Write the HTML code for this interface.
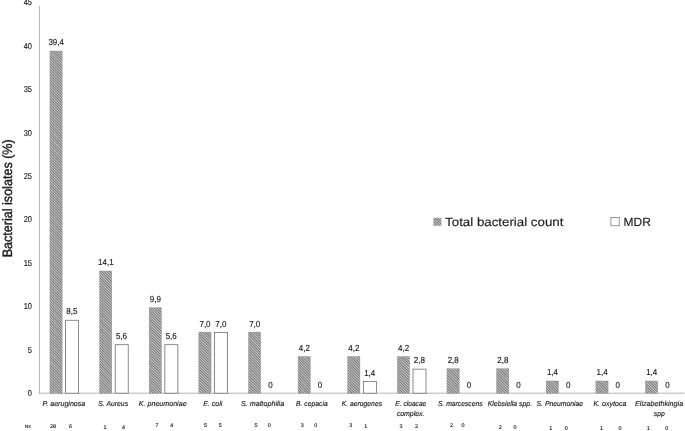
<!DOCTYPE html>
<html><head><meta charset="utf-8"><title>Bacterial isolates</title>
<style>
html,body{margin:0;padding:0;background:#fff;}
svg{display:block;text-rendering:geometricPrecision;font-family:"Liberation Sans",sans-serif;}
text{fill:#1c1c1c;stroke:#1c1c1c;stroke-width:0.15px;}
.ax{font-size:8.5px;text-anchor:end;}
.dl{font-size:8.7px;text-anchor:middle;}
.cl{font-size:7.2px;font-style:italic;text-anchor:middle;}
.nr{font-size:5.4px;text-anchor:middle;}
.lg{font-size:12px;}
</style></head><body>
<svg width="685" height="431" viewBox="0 0 685 431">
<defs>
<pattern id="h" width="1.9" height="1.9" patternUnits="userSpaceOnUse" patternTransform="rotate(45)">
<rect width="1.9" height="1.9" fill="#cdcdcd"/>
<rect width="1.9" height="0.95" fill="#707070"/>
</pattern>
</defs>
<rect width="685" height="431" fill="#fff"/>

<line x1="39.4" y1="6" x2="39.4" y2="393.6" stroke="#b4b4b4" stroke-width="1"/>
<line x1="39" y1="393.2" x2="684.3" y2="393.2" stroke="#b4b4b4" stroke-width="1"/>
<text class="ax" transform="translate(32,395.9) scale(.88,1)">0</text>
<text class="ax" transform="translate(32,352.5) scale(.88,1)">5</text>
<text class="ax" transform="translate(32,309.1) scale(.88,1)">10</text>
<text class="ax" transform="translate(32,265.7) scale(.88,1)">15</text>
<text class="ax" transform="translate(32,222.4) scale(.88,1)">20</text>
<text class="ax" transform="translate(32,179.0) scale(.88,1)">25</text>
<text class="ax" transform="translate(32,135.6) scale(.88,1)">30</text>
<text class="ax" transform="translate(32,92.2) scale(.88,1)">35</text>
<text class="ax" transform="translate(32,48.8) scale(.88,1)">40</text>
<text class="ax" transform="translate(32,5.4) scale(.88,1)">45</text>
<text class="lg" style="font-size:13.6px;stroke-width:0.4px" transform="translate(11.8,257.3) rotate(-90)" textLength="118" lengthAdjust="spacingAndGlyphs">Bacterial isolates (%)</text>
<rect x="49.95" y="51.01" width="12.2" height="342.19" fill="url(#h)" stroke="#8c8c8c" stroke-width="0.4"/>
<text class="dl" transform="translate(56.2,45.4) scale(.92,1)">39,4</text>
<rect x="65.60" y="320.27" width="13" height="72.93" fill="#fff" stroke="#6e6e6e" stroke-width="0.8"/>
<text class="dl" transform="translate(71.9,314.4) scale(.92,1)">8,5</text>
<text class="cl" x="63.9" y="406.4" textLength="42.8" lengthAdjust="spacingAndGlyphs">P. aeruginosa</text>
<rect x="99.58" y="270.99" width="12.2" height="122.21" fill="url(#h)" stroke="#8c8c8c" stroke-width="0.4"/>
<text class="dl" transform="translate(105.8,265.4) scale(.92,1)">14,1</text>
<rect x="115.23" y="344.72" width="13" height="48.48" fill="#fff" stroke="#6e6e6e" stroke-width="0.8"/>
<text class="dl" transform="translate(121.5,338.8) scale(.92,1)">5,6</text>
<text class="cl" x="113.2" y="406.4" textLength="29.7" lengthAdjust="spacingAndGlyphs">S. Aureus</text>
<rect x="149.21" y="307.65" width="12.2" height="85.55" fill="url(#h)" stroke="#8c8c8c" stroke-width="0.4"/>
<text class="dl" transform="translate(155.4,302.1) scale(.92,1)">9,9</text>
<rect x="164.86" y="344.72" width="13" height="48.48" fill="#fff" stroke="#6e6e6e" stroke-width="0.8"/>
<text class="dl" transform="translate(171.2,338.8) scale(.92,1)">5,6</text>
<text class="cl" x="162.7" y="406.4" textLength="47.8" lengthAdjust="spacingAndGlyphs">K. pneumoniae</text>
<rect x="198.84" y="332.09" width="12.2" height="61.11" fill="url(#h)" stroke="#8c8c8c" stroke-width="0.4"/>
<text class="dl" transform="translate(205.0,326.5) scale(.92,1)">7,0</text>
<rect x="214.49" y="332.49" width="13" height="60.71" fill="#fff" stroke="#6e6e6e" stroke-width="0.8"/>
<text class="dl" transform="translate(220.8,326.6) scale(.92,1)">7,0</text>
<text class="cl" x="212.8" y="406.4" textLength="19.0" lengthAdjust="spacingAndGlyphs">E. coli</text>
<rect x="248.47" y="332.09" width="12.2" height="61.11" fill="url(#h)" stroke="#8c8c8c" stroke-width="0.4"/>
<text class="dl" transform="translate(254.7,326.5) scale(.92,1)">7,0</text>
<text class="dl" transform="translate(270.4,387.7) scale(.92,1)">0</text>
<text class="cl" x="262.6" y="406.4" textLength="43.3" lengthAdjust="spacingAndGlyphs">S. maltophilia</text>
<rect x="298.10" y="356.54" width="12.2" height="36.66" fill="url(#h)" stroke="#8c8c8c" stroke-width="0.4"/>
<text class="dl" transform="translate(304.3,350.9) scale(.92,1)">4,2</text>
<text class="dl" transform="translate(320.1,387.7) scale(.92,1)">0</text>
<text class="cl" x="311.9" y="406.4" textLength="31.6" lengthAdjust="spacingAndGlyphs">B. cepacia</text>
<rect x="347.73" y="356.54" width="12.2" height="36.66" fill="url(#h)" stroke="#8c8c8c" stroke-width="0.4"/>
<text class="dl" transform="translate(353.9,350.9) scale(.92,1)">4,2</text>
<rect x="363.38" y="381.38" width="13" height="11.82" fill="#fff" stroke="#6e6e6e" stroke-width="0.8"/>
<text class="dl" transform="translate(369.7,375.5) scale(.92,1)">1,4</text>
<text class="cl" x="361.9" y="406.4" textLength="40.3" lengthAdjust="spacingAndGlyphs">K. aerogenes</text>
<rect x="397.36" y="356.54" width="12.2" height="36.66" fill="url(#h)" stroke="#8c8c8c" stroke-width="0.4"/>
<text class="dl" transform="translate(403.6,350.9) scale(.92,1)">4,2</text>
<rect x="413.01" y="369.16" width="13" height="24.04" fill="#fff" stroke="#6e6e6e" stroke-width="0.8"/>
<text class="dl" transform="translate(419.3,363.3) scale(.92,1)">2,8</text>
<text class="cl" x="410.8" y="406.4" textLength="31.0" lengthAdjust="spacingAndGlyphs">E. cloacae</text>
<text class="cl" x="410.6" y="415.8" textLength="27.9" lengthAdjust="spacingAndGlyphs">complex.</text>
<rect x="446.99" y="368.76" width="12.2" height="24.44" fill="url(#h)" stroke="#8c8c8c" stroke-width="0.4"/>
<text class="dl" transform="translate(453.2,363.2) scale(.92,1)">2,8</text>
<text class="dl" transform="translate(468.9,387.7) scale(.92,1)">0</text>
<text class="cl" x="460.3" y="406.4" textLength="44.6" lengthAdjust="spacingAndGlyphs">S. marcescens</text>
<rect x="496.62" y="368.76" width="12.2" height="24.44" fill="url(#h)" stroke="#8c8c8c" stroke-width="0.4"/>
<text class="dl" transform="translate(502.8,363.2) scale(.92,1)">2,8</text>
<text class="dl" transform="translate(518.6,387.7) scale(.92,1)">0</text>
<text class="cl" x="509.9" y="406.4" textLength="44.3" lengthAdjust="spacingAndGlyphs">Klebsiella spp.</text>
<rect x="546.25" y="380.98" width="12.2" height="12.22" fill="url(#h)" stroke="#8c8c8c" stroke-width="0.4"/>
<text class="dl" transform="translate(552.5,375.4) scale(.92,1)">1,4</text>
<text class="dl" transform="translate(568.2,387.7) scale(.92,1)">0</text>
<text class="cl" x="559.8" y="406.4" textLength="46.4" lengthAdjust="spacingAndGlyphs">S. Pneumoniae</text>
<rect x="595.88" y="380.98" width="12.2" height="12.22" fill="url(#h)" stroke="#8c8c8c" stroke-width="0.4"/>
<text class="dl" transform="translate(602.1,375.4) scale(.92,1)">1,4</text>
<text class="dl" transform="translate(617.8,387.7) scale(.92,1)">0</text>
<text class="cl" x="609.9" y="406.4" textLength="33.0" lengthAdjust="spacingAndGlyphs">K. oxytoca</text>
<rect x="645.51" y="380.98" width="12.2" height="12.22" fill="url(#h)" stroke="#8c8c8c" stroke-width="0.4"/>
<text class="dl" transform="translate(651.7,375.4) scale(.92,1)">1,4</text>
<text class="dl" transform="translate(667.5,387.7) scale(.92,1)">0</text>
<text class="cl" x="659.1" y="406.4" textLength="48.1" lengthAdjust="spacingAndGlyphs">Elizabethkingia</text>
<text class="cl" x="659.3" y="415.8" textLength="11.0" lengthAdjust="spacingAndGlyphs">spp</text>
<text class="nr" x="28" y="427.9" style="font-size:4.8px">N=</text>
<text class="nr" x="53.1" y="427.8">28</text>
<text class="nr" x="70.5" y="427.8">6</text>
<text class="nr" x="105.0" y="428.6">1</text>
<text class="nr" x="123.6" y="428.6">4</text>
<text class="nr" x="156.9" y="427.4">7</text>
<text class="nr" x="171.8" y="427.4">4</text>
<text class="nr" x="205.6" y="427.4">5</text>
<text class="nr" x="220.2" y="427.4">5</text>
<text class="nr" x="256.1" y="427.4">5</text>
<text class="nr" x="269.3" y="427.4">0</text>
<text class="nr" x="302.3" y="427.4">3</text>
<text class="nr" x="315.7" y="427.4">0</text>
<text class="nr" x="350.7" y="427.1">3</text>
<text class="nr" x="365.8" y="427.9">1</text>
<text class="nr" x="400.9" y="428.0">3</text>
<text class="nr" x="416.4" y="428.3">2</text>
<text class="nr" x="451.4" y="427.1">2</text>
<text class="nr" x="463.1" y="427.1">0</text>
<text class="nr" x="500.2" y="428.6">2</text>
<text class="nr" x="515.1" y="428.6">0</text>
<text class="nr" x="550.7" y="429.7">1</text>
<text class="nr" x="566.2" y="429.7">0</text>
<text class="nr" x="601.6" y="429.7">1</text>
<text class="nr" x="620.0" y="429.7">0</text>
<text class="nr" x="648.4" y="429.7">1</text>
<text class="nr" x="666.8" y="429.7">0</text>
<rect x="433.4" y="217.8" width="8" height="8" fill="url(#h)"/>
<text class="lg" x="445.1" y="226.2" textLength="118.3" lengthAdjust="spacingAndGlyphs">Total bacterial count</text>
<rect x="610.9" y="217.5" width="8.4" height="8.2" fill="#fff" stroke="#8a8a8a" stroke-width="0.9"/>
<text class="lg" x="623.5" y="225.9">MDR</text>
</svg></body></html>
